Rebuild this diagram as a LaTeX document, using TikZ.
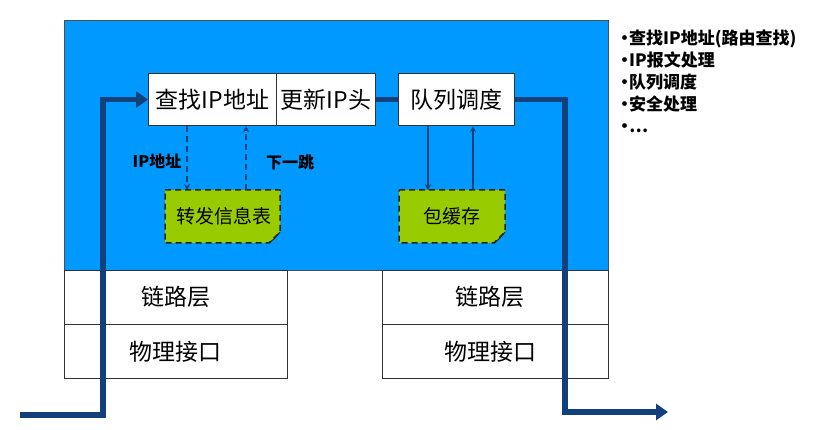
\documentclass[tikz,border=0pt]{standalone}
\usepackage{fontspec}
\setmainfont{Noto Sans CJK SC}
\usetikzlibrary{arrows.meta}
\definecolor{skyb}{RGB}{0,153,255}
\definecolor{navy}{RGB}{18,64,122}
\definecolor{leaf}{RGB}{153,204,0}
\tikzset{
  whitebox/.style={draw=black!80, line width=1.2pt, fill=white, inner sep=0pt, anchor=north west},
  lowbox/.style={draw=black!80, line width=0.6pt, fill=white, inner sep=0pt, anchor=north west, minimum height=54pt, font=\fontsize{23}{25}\selectfont},
  topbox/.style={whitebox, minimum height=52pt, font=\fontsize{23}{25}\selectfont},
  note/.style={draw=black!85, dash pattern=on 6pt off 4pt, line width=1.5pt, fill=leaf},
  flowline/.style={draw=navy, line width=5.5pt},
  flow/.style={flowline, -{Triangle[length=12pt,width=16pt]}},
  darr/.style={draw=navy, line width=1.8pt, dash pattern=on 6pt off 4pt, -{Stealth[length=6pt,width=6pt]}},
  sarr/.style={draw=navy, line width=1.8pt, -{Stealth[length=6pt,width=6pt]}},
  lbl/.style={font=\bfseries\fontsize{16}{18}\selectfont, inner sep=1pt},
  notetext/.style={font=\fontsize{19}{21}\selectfont, inner sep=0pt}
}
\begin{document}
\begin{tikzpicture}[x=1pt,y=-1pt]
\path[use as bounding box] (0,0) rectangle (828,430);
% blue router box
\node[draw=black!70, line width=0.6pt, fill=skyb, inner sep=0pt, anchor=north west,
      minimum width=544pt, minimum height=250pt] (router) at (64,20) {};
% lower boxes
\node[lowbox, minimum width=223pt] (link1) at (64,270) {链路层};
\node[lowbox, minimum width=223pt] (phy1) at (64,324) {物理接口};
\node[lowbox, minimum width=226pt] (link2) at (382,270) {\hspace{-10pt}链路层};
\node[lowbox, minimum width=226pt] (phy2) at (382,324) {\hspace{-10pt}物理接口};
% top processing boxes
\node[topbox, minimum width=128pt] (lookup) at (148,73) {查找IP地址};
\node[topbox, minimum width=99pt] (update) at (276,73) {更新IP头};
\node[topbox, minimum width=116pt] (queue) at (398,73) {队列调度};
% notes with folded corner
\coordinate (fibnw) at (165,190);
\coordinate (fibse) at (280,243);
\draw[note] (fibnw) -| ([yshift=11pt]fibse) -- ([xshift=-11pt]fibse) -| cycle;
\draw[black!85, line width=1pt] ([xshift=-11pt]fibse) -- ([xshift=-6pt,yshift=4pt]fibse) -- ([yshift=11pt]fibse);
\node[notetext] (fib) at (224,216) {转发信息表};
\coordinate (bufnw) at (399,190);
\coordinate (bufse) at (505,243);
\draw[note] (bufnw) -| ([yshift=11pt]bufse) -- ([xshift=-11pt]bufse) -| cycle;
\draw[black!85, line width=1pt] ([xshift=-11pt]bufse) -- ([xshift=-6pt,yshift=4pt]bufse) -- ([yshift=11pt]bufse);
\node[notetext] (buf) at (452,216) {包缓存};
% dashed lookup arrows
\draw[darr] ([xshift=39pt]lookup.south west) -- ([xshift=22pt]fibnw);
\draw[darr] ([xshift=81pt]fibnw) -- ([xshift=98pt]lookup.south west);
\node[lbl] (ipaddr) at (157,161) {IP地址};
\node[lbl] (nexthop) at (290,162) {下一跳};
% buffer arrows
\draw[sarr] ([xshift=30pt]queue.south west) -- ([xshift=29pt]bufnw);
\draw[sarr] ([xshift=74pt]bufnw) -- ([xshift=75pt]queue.south west);
% main flow
\coordinate (in) at (20,415);
\coordinate (inturn) at (103,415);
\draw[flow, line join=miter] (in) -- (inturn) |- (lookup.west);
\draw[flowline] (update.east) -- (queue.west);
\coordinate (outturn) at (565,412);
\coordinate (out) at (668,412);
\draw[flow, line join=miter] (queue.east) -| (outturn) -- (out);
% feature list
\node[anchor=north west, align=left, inner sep=0pt, font=\bfseries\fontsize{17}{22}\selectfont] (list) at (619,30)
  {\hspace{-3pt}•\hspace{-4pt}查找IP地址(路由查找)\\\hspace{-3pt}•\hspace{-4pt}IP报文处理\\\hspace{-3pt}•\hspace{-4pt}队列调度\\\hspace{-3pt}•\hspace{-4pt}安全处理\\\hspace{-3pt}•\hspace{-4pt}…};
\end{tikzpicture}
\end{document}
